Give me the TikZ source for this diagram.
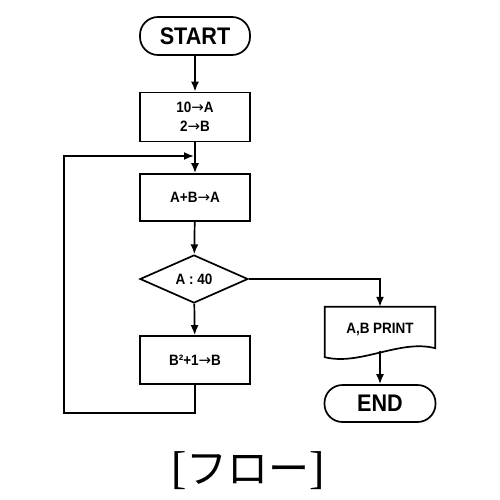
\documentclass[tikz,border=0pt]{standalone}
\usepackage{fontspec}
\usepackage{tikz}
\usetikzlibrary{arrows.meta,shapes.geometric,calc}
\newfontfamily\flowfont{Liberation Sans}[FakeStretch=0.9]
\newfontfamily\arrowfont{DejaVu Sans}
\newfontfamily\capserif{Liberation Serif}
\newfontfamily\capjp{Noto Sans CJK JP}
\newcommand\flowto{{\arrowfont\mdseries →}}

\begin{document}
\begin{tikzpicture}[x=1pt,y=-1pt,
  every node/.style={font=\flowfont\bfseries\fontsize{15}{19}\selectfont},
  flowline/.style={line width=1.7pt},
  flowarrow/.style={flowline,-{Latex[length=10pt,width=8pt]}},
  procbox/.style={rectangle,draw,line width=1.7pt,minimum width=110pt,minimum height=48pt,align=center},
  termbox/.style={rectangle,draw,line width=1.7pt,rounded corners=18pt,minimum width=110pt,minimum height=38pt,
    font=\flowfont\bfseries\fontsize{24}{28}\selectfont},
  decbox/.style={diamond,draw,line width=1.7pt,inner sep=0pt,minimum width=108pt,minimum height=48pt}]
\useasboundingbox (0,0) rectangle (500,500);
% flow nodes
\node[termbox] (start) at (195,36) {START};
\node[procbox,minimum height=49pt] (init) at (195,117) {10\flowto A\\2\flowto B};
\node[procbox,minimum height=47pt] (add) at (195,197.5) {A+B\flowto A};
\node[decbox] (check) at (194,279) {A : 40};
\node[procbox] (update) at (195,360) {B²+1\flowto B};
\node[minimum width=110pt,minimum height=44pt,inner sep=0pt] (print) at (380,329) {A,B PRINT};
\node[termbox,minimum width=111pt,minimum height=37pt] (end) at (380,403.5) {END};
% print outline with wavy bottom
\draw[flowline,line join=miter] (print.north west) -- ($(print.south west)+(0,6)$)
  .. controls (360,366) and (400,339) .. ($(print.south east)+(0,-3)$)
  -- (print.north east) -- cycle;
% loop points
\coordinate (loopleft) at (64,413);
\coordinate (join) at (195,156);
% connectors
\draw[flowarrow] (start) -- (init);
\draw[flowarrow] (init) -- (add);
\draw[flowarrow] (add) -- (check);
\draw[flowarrow] (check) -- (update);
\draw[flowarrow] (check.east) -| (print.north);
\draw[flowarrow] (print.south) -- (end);
\draw[flowarrow,shorten >=1pt] (update.south) |- (loopleft) |- (join);
% caption
\node[font=\normalfont] (caption) at (248,471)
  {{\capserif\fontsize{46}{50}\selectfont[}{\capjp\fontsize{41}{45}\selectfont フロー}{\capserif\fontsize{46}{50}\selectfont]}};
\end{tikzpicture}
\end{document}
